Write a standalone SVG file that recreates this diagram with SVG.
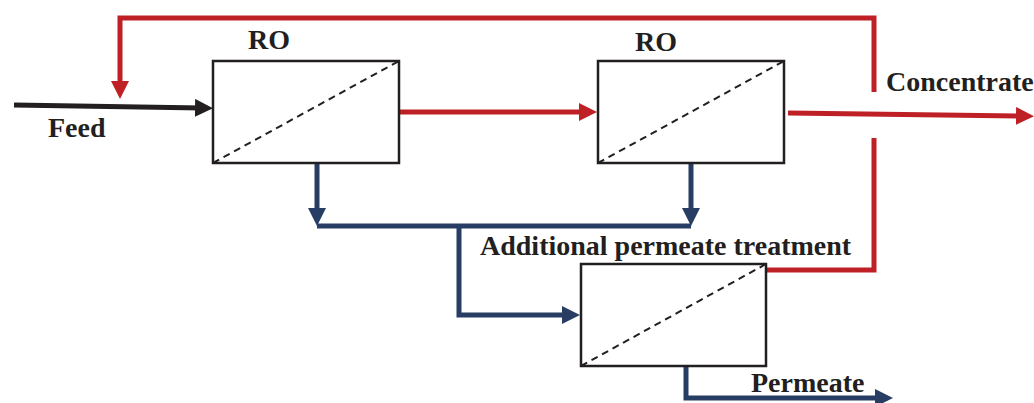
<svg xmlns="http://www.w3.org/2000/svg" width="1034" height="403" viewBox="0 0 1034 403">
<style>
.box{fill:#fff;stroke:#231f20;stroke-width:2.5}
.diag{stroke:#231f20;stroke-width:2;stroke-dasharray:7,5;fill:none}
.lbl{font-family:"Liberation Serif","Times New Roman",serif;font-weight:bold;font-size:28px;fill:#231f20}
.red{stroke:#be2026;stroke-width:5;fill:none}
.blue{stroke:#273d63;stroke-width:5;fill:none}
.blk{stroke:#231f20;stroke-width:5;fill:none}
</style>
<defs>
<marker id="ar" markerUnits="userSpaceOnUse" markerWidth="18" markerHeight="18" refX="7" refY="9" orient="auto"><path d="M0,0 L18,9 L0,18 z" fill="#be2026"/></marker>
<marker id="ab" markerUnits="userSpaceOnUse" markerWidth="18" markerHeight="18" refX="7" refY="9" orient="auto"><path d="M0,0 L18,9 L0,18 z" fill="#273d63"/></marker>
<marker id="ak" markerUnits="userSpaceOnUse" markerWidth="18" markerHeight="18" refX="7" refY="9" orient="auto"><path d="M0,0 L18,9 L0,18 z" fill="#231f20"/></marker>
</defs>
<g id="connectors">
<path class="blk" d="M14,105 L202,108" marker-end="url(#ak)"/>
<path class="red" d="M874,92 L874,18 L120,18 L120,88" marker-end="url(#ar)"/>
<path class="red" d="M400,112 L586,112" marker-end="url(#ar)"/>
<path class="red" d="M788,113 L1023,116" marker-end="url(#ar)"/>
<path class="red" d="M766,270 L874,270 L874,138"/>
<path class="blue" d="M317,163 L317,215" marker-end="url(#ab)"/>
<path class="blue" d="M691,163 L691,215" marker-end="url(#ab)"/>
<path class="blue" d="M317,226 L691,226"/>
<path class="blue" d="M459,226 L459,315 L569,315" marker-end="url(#ab)"/>
<path class="blue" d="M686,366 L686,398 L882,398" marker-end="url(#ab)"/>
</g>
<g id="ro1">
<rect class="box" x="213" y="61" width="186" height="102"/>
<line class="diag" x1="213" y1="163" x2="399" y2="61"/>
<text class="lbl" x="248" y="49">RO</text>
</g>
<g id="ro2">
<rect class="box" x="598" y="61" width="186" height="102"/>
<line class="diag" x1="598" y1="163" x2="784" y2="61"/>
<text class="lbl" x="635" y="51">RO</text>
</g>
<g id="treatment">
<rect class="box" x="581" y="264" width="185" height="102"/>
<line class="diag" x1="581" y1="366" x2="766" y2="264"/>
<text class="lbl" x="480" y="255">Additional permeate treatment</text>
</g>
<g id="labels">
<text class="lbl" x="48" y="137">Feed</text>
<text class="lbl" x="886" y="91">Concentrate</text>
<text class="lbl" x="751" y="392">Permeate</text>
</g>
</svg>
